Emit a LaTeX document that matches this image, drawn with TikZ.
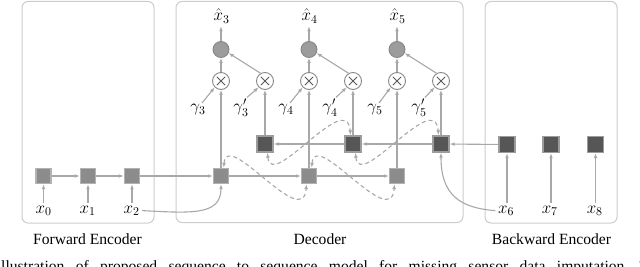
\RequirePackage{fix-cm}
\documentclass[tikz,border=0pt]{standalone}
\usepackage[no-math]{fontspec}
\setmainfont{Liberation Serif}
\usetikzlibrary{arrows.meta}
\definecolor{ln}{HTML}{A8A8A8}
\definecolor{frm}{HTML}{CCCCCC}
\definecolor{lfill}{HTML}{8C8C8C}
\definecolor{ldraw}{HTML}{B2B2B2}
\definecolor{dfill}{HTML}{565656}
\definecolor{ddraw}{HTML}{9C9C9C}
\definecolor{cfill}{HTML}{9C9C9C}
\definecolor{cdraw}{HTML}{888888}
\newcommand\txtsize{\fontsize{15.6}{18}\selectfont}
\newcommand\mthsize{\fontsize{17}{20}\selectfont}
\tikzset{
  frame/.style={draw=frm, line width=1pt, rounded corners=6pt},
  arr/.style={draw=ln, line width=1.1pt, -{Latex[length=5pt,width=3.8pt]}},
  dsh/.style={draw=ln, line width=1.1pt, dash pattern=on 4pt off 3pt,
     {Latex[length=5pt,width=3.8pt]}-{Latex[length=5pt,width=3.8pt]}},
  lsq/.style={draw=ldraw, fill=lfill, line width=1.4pt, minimum size=15pt, inner sep=0pt},
  dsq/.style={draw=ddraw, fill=dfill, line width=1.4pt, minimum size=16pt, inner sep=0pt},
  cir/.style={circle, draw=cdraw, fill=cfill, line width=0.9pt, minimum size=16pt, inner sep=0pt},
  otm/.style={circle, draw=cdraw, fill=white, line width=0.9pt, minimum size=17pt, inner sep=0pt,
     path picture={
       \draw[line width=0.8pt, draw=black!65]
         ([shift={(-4.2pt,-4.2pt)}]path picture bounding box.center) -- ([shift={(4.2pt,4.2pt)}]path picture bounding box.center)
         ([shift={(-4.2pt,4.2pt)}]path picture bounding box.center) -- ([shift={(4.2pt,-4.2pt)}]path picture bounding box.center);}},
  lab/.style={anchor=base, inner sep=2.5pt, font=\mthsize},
  lab2/.style={anchor=base, inner sep=1.5pt, font=\mthsize},
  ttl/.style={anchor=base, inner sep=0pt, font=\txtsize}
}
\begin{document}
\begin{tikzpicture}[x=1pt,y=-1pt]
\useasboundingbox (0,0) rectangle (640,267);
% frames
\draw[frame] (22,1.5) rectangle (154,223);
\draw[frame] (176,1.5) rectangle (463,222.5);
\draw[frame] (485,1.5) rectangle (617,223);
% titles
\node[ttl] (tfe) at (87.5,244.5) {Forward Encoder};
\node[ttl] (tde) at (320,244) {Decoder};
\node[ttl] (tbe) at (551.5,244) {Backward Encoder};
\node[anchor=base west, inner sep=0pt, font=\txtsize] (cap) at (1,271.5)
  {\makebox[648pt][s]{llustration of proposed sequence to sequence model for missing sensor data imputation.\ T}};
% forward encoder
\node[lsq] (e0) at (43.5,176) {};
\node[lsq] (e1) at (88,176) {};
\node[lsq] (e2) at (132,176) {};
\node[lab] (x0) at (43.7,213) {$x_0$};
\node[lab] (x1) at (87.5,213) {$x_1$};
\node[lab] (x2) at (131.5,213) {$x_2$};
% decoder lower (forward) row
\node[lsq] (f1) at (221,176) {};
\node[lsq] (f2) at (309,176) {};
\node[lsq] (f3) at (397,176) {};
% decoder upper (backward) row
\node[dsq] (u1) at (265,144) {};
\node[dsq] (u2) at (353,144) {};
\node[dsq] (u3) at (441,144) {};
% backward encoder
\node[dsq] (b6) at (507,144.5) {};
\node[dsq] (b7) at (551,144.5) {};
\node[dsq] (b8) at (595.5,144.5) {};
\node[lab] (x6) at (506,213) {$x_6$};
\node[lab] (x7) at (549.7,213) {$x_7$};
\node[lab] (x8) at (594.7,213) {$x_8$};
% otimes
\node[otm] (o1) at (221,81) {};
\node[otm] (o2) at (265,81) {};
\node[otm] (o3) at (309,81) {};
\node[otm] (o4) at (353,81) {};
\node[otm] (o5) at (397,81) {};
\node[otm] (o6) at (441,81) {};
% output circles
\node[cir] (c1) at (221,49.5) {};
\node[cir] (c2) at (309,49.5) {};
\node[cir] (c3) at (397,49.5) {};
\node[lab] (h3) at (221.5,21) {$\hat{x}_3$};
\node[lab] (h4) at (309.5,21) {$\hat{x}_4$};
\node[lab] (h5) at (397.5,21) {$\hat{x}_5$};
% gammas
\node[lab2] (g3) at (198,112) {$\gamma_3$};
\node[lab2] (gp3) at (241,112) {$\gamma'_3$};
\node[lab2] (g4) at (286,112) {$\gamma_4$};
\node[lab2] (gp4) at (330,112) {$\gamma'_4$};
\node[lab2] (g5) at (375,112) {$\gamma_5$};
\node[lab2] (gp5) at (419,112) {$\gamma'_5$};
% input arrows
\draw[arr] (x0.north -| e0) -- (e0.south);
\draw[arr] (x1.north -| e1) -- (e1.south);
\draw[arr] (x2.north -| e2) -- (e2.south);
\draw[arr] (x6.north -| b6) -- (b6.south);
\draw[arr] (x7.north -| b7) -- (b7.south);
\draw[arr] (x8.north -| b8) -- (b8.south);
% chains
\draw[arr] (e0) -- (e1);
\draw[arr] (e1) -- (e2);
\draw[arr] (e2) -- (f1);
\draw[arr] (f1) -- (f2);
\draw[arr] (f2) -- (f3);
\draw[arr] (b6) -- (u3);
\draw[arr] (u3) -- (u2);
\draw[arr] (u2) -- (u1);
% curved inputs
\draw[arr] (x2.east) .. controls (190,213) and (221,216) .. (f1.south);
\draw[arr] (x6.west) .. controls (460,208) and (441,195) .. (u3.south);
% verticals to otimes
\draw[arr] (f1) -- (o1);
\draw[arr] (u1) -- (o2);
\draw[arr] (f2) -- (o3);
\draw[arr] (u2) -- (o4);
\draw[arr] (f3) -- (o5);
\draw[arr] (u3) -- (o6);
% otimes to circles
\draw[arr] (o1) -- (c1);
\draw[arr] (o3) -- (c2);
\draw[arr] (o5) -- (c3);
\draw[arr] (o2.120) -- (c1.-25);
\draw[arr] (o4.120) -- (c2.-25);
\draw[arr] (o6.120) -- (c3.-25);
% circles to outputs
\draw[arr] (c1.north) -- (c1.north |- h3.south);
\draw[arr] (c2.north) -- (c2.north |- h4.south);
\draw[arr] (c3.north) -- (c3.north |- h5.south);
% gamma arrows
\draw[arr] (g3.60) -- (o1.225);
\draw[arr] (gp3.60) -- (o2.225);
\draw[arr] (g4.60) -- (o3.225);
\draw[arr] (gp4.60) -- (o4.225);
\draw[arr] (g5.60) -- (o5.225);
\draw[arr] (gp5.60) -- (o6.225);
% dashed links
\draw[dsh] (f1.72) .. controls (227,128) and (303,232) .. (f2.-107);
\draw[dsh] (f2.72) .. controls (315,128) and (391,232) .. (f3.-107);
\draw[dsh] (u1.-74) .. controls (271,192) and (347,88) .. (u2.106);
\draw[dsh] (u2.-74) .. controls (359,192) and (435,88) .. (u3.106);
\end{tikzpicture}
\end{document}
